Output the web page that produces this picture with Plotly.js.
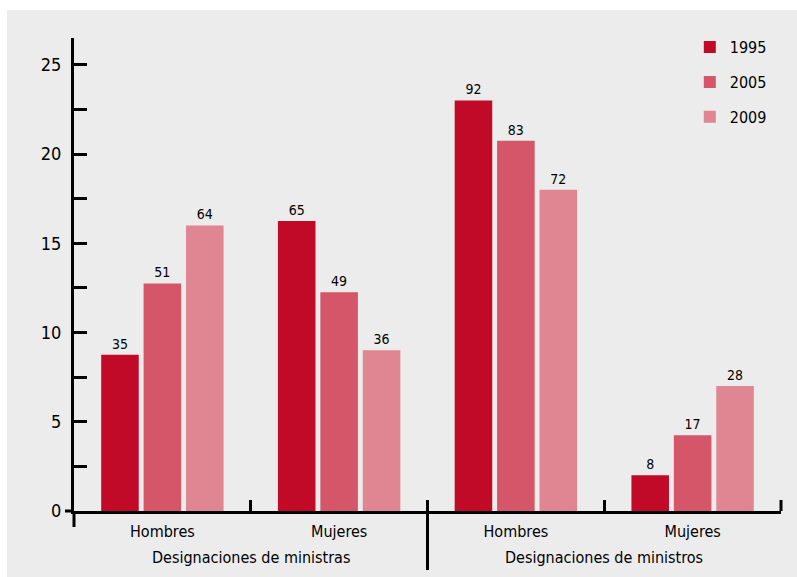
<!DOCTYPE html>
<html>
<head>
<meta charset="utf-8">
<script src="https://cdn.plot.ly/plotly-3.0.1.min.js"></script>
<style>html,body{margin:0;padding:0;background:#fff}#chart{width:797px;height:577px}</style>
</head>
<body>
<div id="chart"></div>
<script>
// Data
const groupNames = ["Designaciones de ministras", "Designaciones de ministros"];
const groups = ["Designaciones de ministras", "Designaciones de ministras", "Designaciones de ministros", "Designaciones de ministros"];
const categories = ["Hombres", "Mujeres", "Hombres", "Mujeres"];
const seriesNames = ["1995", "2005", "2009"];
// bar heights on the axis scale
const heights1995 = [8.75, 16.25, 23, 2];
const heights2005 = [12.75, 12.25, 20.75, 4.25];
const heights2009 = [16, 9, 18, 7];
// labels printed above the bars
const labels1995 = ["35", "65", "92", "8"];
const labels2005 = ["51", "49", "83", "17"];
const labels2009 = ["64", "36", "72", "28"];
const colors = ["#c00a28", "#d55569", "#e08592"];

const FONT = "'DejaVu Sans Condensed', 'Liberation Sans Narrow', Arial, sans-serif";
const heights = [heights1995, heights2005, heights2009];
const labels = [labels1995, labels2005, labels2009];
// unique category keys (group + category), shown with the category text only
const keys = categories.map((c, i) => groups[i] + " | " + c);

const traces = seriesNames.map((name, i) => ({
  type: "bar",
  name: name,
  x: keys,
  y: heights[i],
  text: labels[i],
  textposition: "outside",
  textfont: {family: FONT, size: 14, color: "#000"},
  cliponaxis: false,
  marker: {color: colors[i], line: {width: 0}},
  hoverinfo: "skip",
  legendgroup: "g" + i
}));

const layout = {
  width: 797, height: 577,
  margin: {l: 74, r: 16, t: 38, b: 66},
  paper_bgcolor: "#ffffff",
  plot_bgcolor: "rgba(0,0,0,0)",
  font: {family: FONT, size: 16, color: "#000"},
  barmode: "group",
  bargap: 0.28,
  bargroupgap: 0.115,
  showlegend: true,
  legend: {
    x: 0.871, xanchor: "left", y: 1.0165, yanchor: "top",
    bgcolor: "rgba(0,0,0,0)",
    font: {family: FONT, size: 16, color: "#000"},
    tracegroupgap: 11,
    traceorder: "grouped"
  },
  xaxis: {
    type: "category",
    categoryorder: "array", categoryarray: keys,
    range: [-0.5, 3.5],
    tickmode: "array", tickvals: keys, ticktext: categories,
    showline: true, linecolor: "#000", linewidth: 3,
    tickson: "boundaries",
    ticks: "inside", ticklen: 11, tickwidth: 3, tickcolor: "#000",
    tickfont: {family: FONT, size: 16, color: "#000"},
    ticklabelstandoff: 4,
    showgrid: false, zeroline: false,
    fixedrange: true
  },
  yaxis: {
    range: [0, 26.5],
    showline: true, linecolor: "#000", linewidth: 3,
    tickmode: "linear", tick0: 0, dtick: 5,
    ticks: "inside", ticklen: 13, tickwidth: 3, tickcolor: "#000",
    minor: {dtick: 2.5, ticks: "inside", ticklen: 13, tickwidth: 3, tickcolor: "#000", showgrid: false},
    tickfont: {family: FONT, size: 18, color: "#000"},
    ticklabelstandoff: 6,
    showgrid: false, zeroline: false,
    fixedrange: true
  },
  annotations: groupNames.map((g, i) => ({
    text: g, xref: "paper", yref: "paper",
    x: 0.25 + 0.5 * i, y: 0, xanchor: "center", yanchor: "middle",
    yshift: -46, showarrow: false,
    font: {family: FONT, size: 16, color: "#000"}
  })),
  shapes: [
    // grey panel
    {type: "rect", xref: "paper", yref: "paper", layer: "below",
     xsizemode: "pixel", ysizemode: "pixel", xanchor: 0, yanchor: 0,
     x0: -67, x1: 760, y0: -80, y1: 501,
     fillcolor: "#ececec", line: {width: 0}},
    // y axis extension below zero
    {type: "line", xref: "paper", yref: "paper", ysizemode: "pixel", yanchor: 0,
     x0: 0, x1: 0, y0: 0, y1: -16, line: {color: "#000", width: 3}},
    // x axis extension left of y axis
    {type: "line", xref: "paper", yref: "paper", xsizemode: "pixel", xanchor: 0,
     x0: -9, x1: 0, y0: 0, y1: 0, line: {color: "#000", width: 3}},
    // main divider between the two groups
    {type: "line", xref: "paper", yref: "paper", ysizemode: "pixel", yanchor: 0,
     x0: 0.5, x1: 0.5, y0: 11, y1: -59, line: {color: "#000", width: 3}},
    // closing tick at the right end of the axis
    {type: "line", xref: "paper", yref: "paper", ysizemode: "pixel", yanchor: 0,
     x0: 1, x1: 1, y0: 0, y1: 11, line: {color: "#000", width: 3}}
  ]
};

Plotly.newPlot("chart", traces, layout, {displayModeBar: false, staticPlot: true});
</script>
</body>
</html>
